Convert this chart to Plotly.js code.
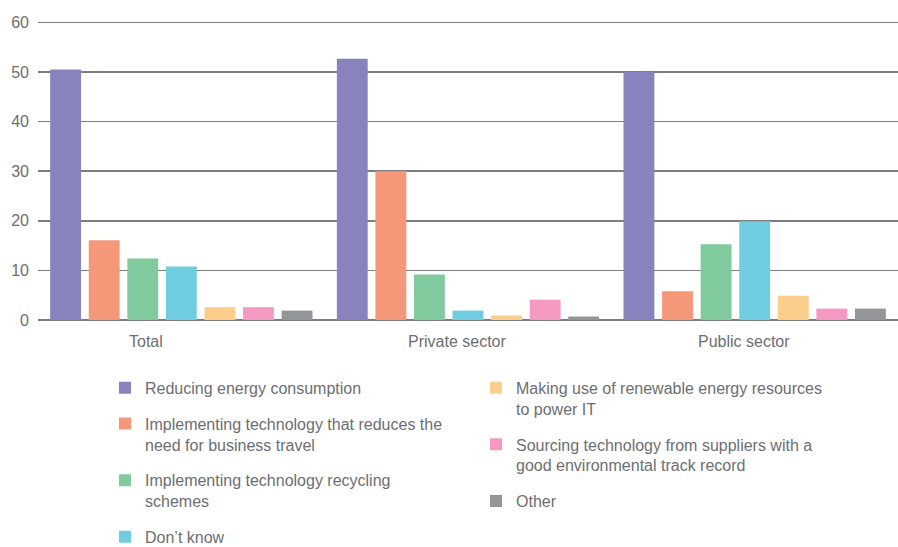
<!DOCTYPE html>
<html>
<head>
<meta charset="utf-8">
<script src="https://cdn.plot.ly/plotly-3.0.1.min.js"></script>
<style>html,body{margin:0;padding:0;background:#fff;}#chart{width:898px;height:547px;}</style>
</head>
<body>
<div id="chart"></div>
<script>
const categories = ["Total", "Private sector", "Public sector"];
const seriesNames = [
  "Reducing energy consumption",
  "Implementing technology that reduces the<br>need for business travel",
  "Implementing technology recycling<br>schemes",
  "Don’t know",
  "Making use of renewable energy resources<br>to power IT",
  "Sourcing technology from suppliers with a<br>good environmental track record",
  "Other"
];
const reducingEnergy = [50.5, 52.7, 50.0];
const businessTravel = [16.1, 30.0, 5.8];
const recycling = [12.4, 9.2, 15.3];
const dontKnow = [10.8, 1.9, 19.9];
const renewable = [2.6, 0.9, 4.9];
const suppliers = [2.6, 4.1, 2.3];
const other = [1.9, 0.7, 2.3];
const yTicks = [0, 10, 20, 30, 40, 50, 60];

const seriesValues = [reducingEnergy, businessTravel, recycling, dontKnow, renewable, suppliers, other];
const colors = ["#8882BD", "#F5987A", "#80CA9E", "#70CDE0", "#FBCE8C", "#F49AC2", "#939598"];
const legendFor = ["legend", "legend", "legend", "legend", "legend2", "legend2", "legend2"];

const traces = seriesValues.map((vals, i) => ({
  type: "bar",
  name: seriesNames[i],
  x: categories,
  y: vals,
  marker: {color: colors[i]},
  legend: legendFor[i],
  legendgroup: "g" + i,
  hoverinfo: "skip"
}));

const textColor = "#6d6e71";
const fontFam = "'Liberation Sans', Arial, sans-serif";
const labelShift = [-35, -11, -11];

const layout = {
  width: 898, height: 547,
  margin: {l: 38, r: 0, t: 21, b: 227, autoexpand: false},
  paper_bgcolor: "#fff", plot_bgcolor: "#fff",
  barmode: "group",
  bargap: 0.058,
  bargroupgap: 0.2,
  font: {family: fontFam, color: textColor, size: 16},
  xaxis: {type: "category", showticklabels: false, showgrid: false, zeroline: false, showline: false, ticks: ""},
  yaxis: {range: [0, 60.3], tickvals: yTicks, ticktext: yTicks.map(String), showgrid: true,
          gridcolor: "#7d7d7d", gridwidth: 1.5, zeroline: true, zerolinecolor: "#7d7d7d", zerolinewidth: 1.5,
          showline: false, ticks: "", tickfont: {size: 16, color: textColor}, ticklabelstandoff: 8},
  showlegend: true,
  legend: {x: (105 - 38) / 860, xanchor: "left", y: -0.17, yanchor: "top", orientation: "v",
           traceorder: "grouped", tracegroupgap: 12, valign: "top", bgcolor: "rgba(0,0,0,0)",
           font: {size: 16, color: textColor, family: fontFam}},
  legend2: {x: (476 - 38) / 860, xanchor: "left", y: -0.17, yanchor: "top", orientation: "v",
           traceorder: "grouped", tracegroupgap: 12, valign: "top", bgcolor: "rgba(0,0,0,0)",
           font: {size: 16, color: textColor, family: fontFam}},
  annotations: categories.map((c, i) => ({
    x: c, xref: "x", y: 0, yref: "paper", yanchor: "top", yshift: -11, xshift: labelShift[i],
    text: c, showarrow: false, font: {size: 16, color: textColor, family: fontFam}
  }))
};

Plotly.newPlot("chart", traces, layout, {displayModeBar: false, staticPlot: true});
</script>
</body>
</html>
